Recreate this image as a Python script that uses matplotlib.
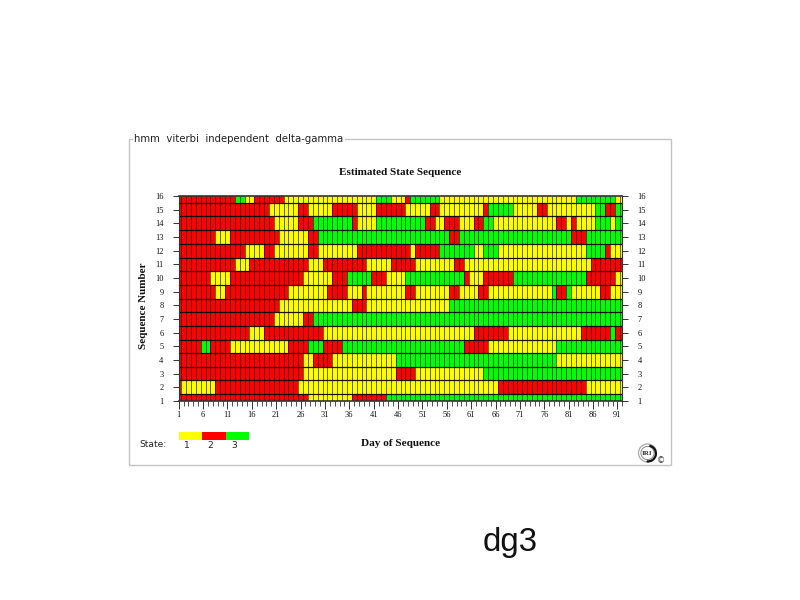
import numpy as np
import matplotlib
matplotlib.use("Agg")
import matplotlib.pyplot as plt
from matplotlib.colors import ListedColormap, BoundaryNorm
from matplotlib.patches import Rectangle, Circle, Wedge

# Each row: list of (state, last day of run). 1=yellow, 2=red, 3=green
seq_16 = [(2,12),(3,14),(1,16),(2,22),(1,41),(3,44),(1,47),(2,48),(3,54),(1,82),(3,90),(1,92)]
seq_15 = [(2,19),(1,25),(2,27),(1,32),(2,37),(1,41),(2,47),(1,52),(2,54),(1,63),(2,64),(3,69),(1,74),(2,76),(1,86),(3,88),(2,90),(3,92)]
seq_14 = [(2,20),(1,25),(2,28),(3,36),(2,37),(1,41),(3,51),(2,53),(1,55),(2,58),(1,61),(2,63),(3,65),(1,78),(2,80),(1,81),(2,82),(1,86),(3,89),(1,90),(3,92)]
seq_13 = [(2,8),(1,11),(2,21),(1,27),(2,29),(3,56),(2,58),(3,81),(2,84),(3,92)]
seq_12 = [(2,14),(1,18),(2,20),(1,27),(2,29),(1,37),(2,48),(1,49),(2,54),(3,61),(1,63),(3,66),(1,84),(3,88),(2,89),(1,92)]
seq_11 = [(2,12),(1,15),(2,27),(1,30),(2,39),(1,44),(2,49),(1,57),(2,59),(1,85),(2,92)]
seq_10 = [(2,7),(1,11),(2,26),(1,32),(2,35),(3,40),(2,43),(1,47),(3,59),(2,60),(1,63),(2,69),(3,84),(2,90),(1,92)]
seq_09 = [(2,8),(1,10),(2,23),(1,31),(2,35),(1,38),(2,39),(1,47),(2,49),(1,56),(2,58),(1,62),(2,64),(1,77),(3,78),(2,80),(3,81),(1,87),(2,89),(1,92)]
seq_08 = [(2,21),(1,36),(2,39),(1,56),(3,92)]
seq_07 = [(2,20),(1,26),(2,28),(3,92)]
seq_06 = [(2,15),(1,18),(2,30),(1,61),(2,68),(1,83),(2,89),(3,90),(2,92)]
seq_05 = [(2,5),(3,7),(2,11),(1,23),(2,27),(3,30),(2,34),(3,59),(2,64),(1,78),(3,92)]
seq_04 = [(2,26),(1,28),(2,32),(1,45),(3,78),(1,92)]
seq_03 = [(2,26),(1,45),(2,49),(1,63),(3,92)]
seq_02 = [(2,1),(1,8),(2,25),(1,66),(2,84),(1,92)]
seq_01 = [(2,27),(1,36),(2,43),(3,92)]
rows = [seq_01,seq_02,seq_03,seq_04,seq_05,seq_06,seq_07,seq_08,seq_09,seq_10,seq_11,seq_12,seq_13,seq_14,seq_15,seq_16]

state_labels = ["1", "2", "3"]
state_colors = ["#ffff00", "#ff0000", "#00ff00"]
day_labels = list(range(1, 92, 5))
seq_labels = list(range(1, 17))

W, H = 800, 600
serif = ["Liberation Serif", "DejaVu Serif"]
fig = plt.figure(figsize=(8, 6), dpi=100, facecolor="white")
def X(p): return p / W
def Y(p): return 1 - p / H

# panel frame with inset title
fig.add_artist(Rectangle((X(129), Y(465)), 542/W, 326/H, transform=fig.transFigure,
                         fill=False, ec="#c4c4c4", lw=1))
fig.text(X(134), Y(139), "hmm  viterbi  independent  delta-gamma", ha="left", va="center",
         fontsize=7.25, color="#222222", family="DejaVu Sans",
         bbox=dict(fc="white", ec="none", pad=1.0))

grid = np.zeros((16, 92), dtype=int)
for r, runs in enumerate(rows):
    start = 0
    for state, end in runs:
        grid[r, start:end] = state
        start = end

xedges = np.concatenate(([1], np.arange(1.5, 92, 1), [92]))
yedges = np.concatenate(([1], np.arange(1.5, 16, 1), [16]))

ax = fig.add_axes([X(178.7), Y(401), 443.6/W, 205/H])
cmap = ListedColormap(state_colors)
norm = BoundaryNorm([0.5, 1.5, 2.5, 3.5], 3)
ax.pcolormesh(xedges, yedges, grid, cmap=cmap, norm=norm, edgecolors="none")
ax.vlines(xedges[1:-1], 1, 16, color="#000000", lw=0.6, alpha=0.7)
ax.hlines(yedges[1:-1], 1, 92, color="#000000", lw=0.9, alpha=0.9)
ax.set_xlim(1, 92)
ax.set_ylim(1, 16)

for s in ax.spines.values():
    s.set_color("#333333"); s.set_linewidth(0.8)
ax.spines["top"].set_linewidth(1.2)
ax.spines["bottom"].set_linewidth(1.2)

ax.set_xticks(day_labels)
ax.set_xticklabels([str(d) for d in day_labels], fontsize=6, family=serif, color="#111111")
ax.set_xticks(np.arange(1, 93), minor=True)
ax.tick_params(axis="x", which="major", length=6, width=0.7, color="#333333", pad=1.5)
ax.tick_params(axis="x", which="minor", length=3.5, width=0.6, color="#333333")
ax.set_yticks(seq_labels)
ax.set_yticklabels([str(s) for s in seq_labels], fontsize=6, family=serif, color="#111111")
ax.tick_params(axis="y", which="major", left=True, right=True, labelleft=True, labelright=True,
               length=4, width=0.7, color="#333333", pad=7)

fig.text(X(400), Y(172.5), "Estimated State Sequence", ha="center", va="center",
         fontsize=8.05, fontweight="bold", family=serif, color="#111111")
fig.text(X(401), Y(443.5), "Day of Sequence", ha="center", va="center",
         fontsize=8.1, fontweight="bold", family=serif, color="#111111")
fig.text(X(143), Y(306), "Sequence Number", ha="center", va="center", rotation=90,
         fontsize=8, fontweight="bold", family=serif, color="#111111")

# state key
fig.text(X(139), Y(444.5), "State:", ha="left", va="center", fontsize=6.6,
         family="DejaVu Sans", color="#222222")
kax = fig.add_axes([X(178.7), Y(440), 70.3/W, 8/H])
kax.pcolormesh([0, 1, 2, 3], [0, 1], [[1, 2, 3]], cmap=cmap, norm=norm)
kax.axis("off")
for i, lab in enumerate(state_labels):
    fig.text(X(187 + 23.5 * i), Y(445), lab, ha="center", va="center", fontsize=6.6,
             family="DejaVu Sans", color="#222222")

# logo
lax = fig.add_axes([0, 0, 1, 1], facecolor="none")
lax.set_xlim(0, W); lax.set_ylim(H, 0); lax.axis("off")
lax.add_patch(Circle((647.5, 453), 9, fc="none", ec="#aaaaaa", lw=0.9))
lax.add_patch(Circle((647.5, 453), 6.6, fc="none", ec="#888888", lw=0.7))
lax.add_patch(Wedge((648, 453.5), 9, -80, 100, width=2.2, fc="#111111", ec="none"))
lax.text(647.5, 453.2, "IRI", ha="center", va="center", fontsize=5, family=serif, fontweight="bold", color="#333333")
lax.text(661, 460.5, "©", ha="center", va="center", fontsize=6, color="#333333", family="DejaVu Sans")

fig.text(X(483), Y(543), "dg3", ha="left", va="center", fontsize=23.7,
         family="Liberation Sans", color="#111111")

fig.savefig("out.png", dpi=100, facecolor="white")
